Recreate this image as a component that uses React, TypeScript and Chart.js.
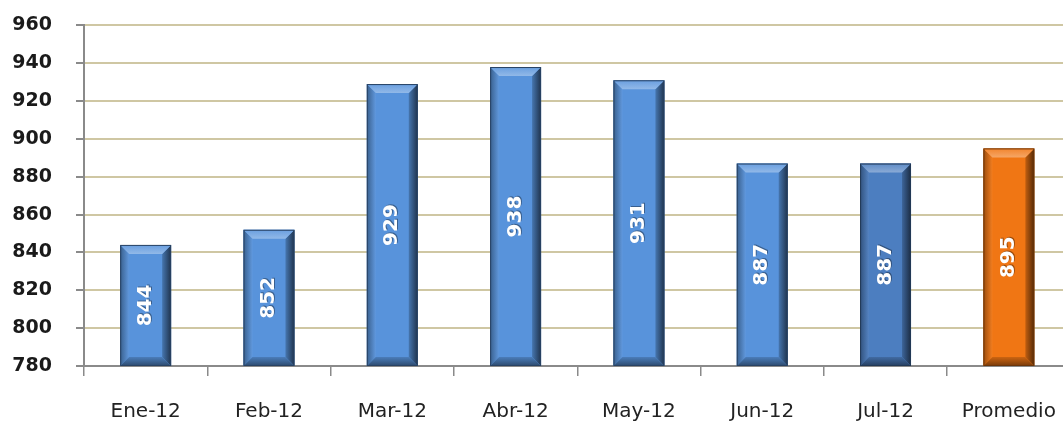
import React, { useEffect, useRef } from "react";
import { Chart, registerables } from "chart.js";

Chart.register(...registerables);

const categories = ["Ene-12", "Feb-12", "Mar-12", "Abr-12", "May-12", "Jun-12", "Jul-12", "Promedio"];
const values = [844, 852, 929, 938, 931, 887, 887, 895];
const barColors = ["#5893DB", "#5893DB", "#5893DB", "#5893DB", "#5893DB", "#5893DB", "#4C7EC0", "#F07614"];
const yTicks = [780, 800, 820, 840, 860, 880, 900, 920, 940, 960];

function shade(hex: string, f: number): string {
  const n = parseInt(hex.slice(1), 16);
  let r = (n >> 16) & 255, g = (n >> 8) & 255, b = n & 255;
  if (f >= 0) {
    r = r + (255 - r) * f; g = g + (255 - g) * f; b = b + (255 - b) * f;
  } else {
    r = r * (1 + f); g = g * (1 + f); b = b * (1 + f);
  }
  return `rgb(${Math.round(r)},${Math.round(g)},${Math.round(b)})`;
}

const bevelPlugin = {
  id: "bevel",
  afterDatasetsDraw(chart: any) {
    const ctx = chart.ctx;
    const meta = chart.getDatasetMeta(0);
    const ys = chart.scales.y;
    const xs = chart.scales.x;
    ctx.save();
    meta.data.forEach((bar: any, i: number) => {
      const x = xs.getPixelForValue(i);
      const width = bar.width || 51;
      const t = ys.getPixelForValue(values[i]);
      const b = ys.getPixelForValue(ys.min);
      const c = barColors[i];
      const l = x - width / 2, r = x + width / 2;
      const bv = 9;
      let g = ctx.createLinearGradient(r - bv, 0, r, 0);
      g.addColorStop(0, shade(c, -0.2));
      g.addColorStop(1, shade(c, -0.65));
      ctx.fillStyle = g;
      ctx.beginPath();
      ctx.moveTo(r, t); ctx.lineTo(r, b); ctx.lineTo(r - bv, b - bv); ctx.lineTo(r - bv, t + bv); ctx.closePath();
      ctx.fill();
      g = ctx.createLinearGradient(l, 0, l + bv, 0);
      g.addColorStop(0, shade(c, -0.35));
      g.addColorStop(1, shade(c, 0.05));
      ctx.fillStyle = g;
      ctx.beginPath();
      ctx.moveTo(l, t); ctx.lineTo(l, b); ctx.lineTo(l + bv, b - bv); ctx.lineTo(l + bv, t + bv); ctx.closePath();
      ctx.fill();
      g = ctx.createLinearGradient(0, t, 0, t + bv);
      g.addColorStop(0, shade(c, 0.1));
      g.addColorStop(1, shade(c, 0.35));
      ctx.fillStyle = g;
      ctx.beginPath();
      ctx.moveTo(l, t); ctx.lineTo(r, t); ctx.lineTo(r - bv, t + bv); ctx.lineTo(l + bv, t + bv); ctx.closePath();
      ctx.fill();
      g = ctx.createLinearGradient(0, b - bv, 0, b);
      g.addColorStop(0, shade(c, -0.15));
      g.addColorStop(1, shade(c, -0.5));
      ctx.fillStyle = g;
      ctx.beginPath();
      ctx.moveTo(l, b); ctx.lineTo(r, b); ctx.lineTo(r - bv, b - bv); ctx.lineTo(l + bv, b - bv); ctx.closePath();
      ctx.fill();
      ctx.strokeStyle = shade(c, -0.55);
      ctx.lineWidth = 1;
      ctx.strokeRect(l + 0.5, t + 0.5, width - 1, b - t - 1);
      ctx.save();
      ctx.translate(x, (t + b) / 2);
      ctx.rotate(-Math.PI / 2);
      ctx.font = "bold 20px 'DejaVu Sans', sans-serif";
      ctx.textAlign = "center";
      ctx.textBaseline = "middle";
      ctx.fillStyle = "rgba(0,0,0,0.35)";
      ctx.fillText(String(values[i]), 1, 1);
      ctx.fillStyle = "#ffffff";
      ctx.fillText(String(values[i]), 0, 0);
      ctx.restore();
    });
    ctx.restore();
  },
};

export default function App() {
  const ref = useRef<HTMLCanvasElement>(null);
  useEffect(() => {
    document.body.style.margin = "0";
    const chart = new Chart(ref.current!, {
      type: "bar",
      data: {
        labels: categories,
        datasets: [
          {
            data: values,
            backgroundColor: barColors,
            borderWidth: 0,
            barPercentage: 0.413,
            categoryPercentage: 1,
          },
        ],
      },
      options: {
        animation: false,
        responsive: false,
        layout: { padding: { top: 15, right: 2, left: 0, bottom: 0 } },
        plugins: { legend: { display: false }, tooltip: { enabled: false } },
        scales: {
          x: {
            offset: true,
            grid: { offset: true, drawOnChartArea: false, color: "#8a8a8a", tickLength: 10, lineWidth: 1.5 },
            border: { color: "#8a8a8a", width: 2 },
            ticks: { color: "#222", font: { family: "'DejaVu Sans'", size: 20 }, padding: 24, maxRotation: 0, autoSkip: false },
            afterFit: (s: any) => { s.height = 55; },
          },
          y: {
            min: 780,
            max: 960,
            afterBuildTicks: (s: any) => { s.ticks = yTicks.map((v) => ({ value: v })); },
            grid: { color: "#CFC7A3", tickColor: "#8a8a8a", tickLength: 8, lineWidth: 2 },
            border: { color: "#8a8a8a", width: 2 },
            ticks: { color: "#1a1a1a", font: { family: "'DejaVu Sans'", size: 19, weight: "bold" }, padding: 24 },
            afterFit: (s: any) => { s.width = 84; },
          },
        },
      },
      plugins: [bevelPlugin],
    });
    return () => chart.destroy();
  }, []);
  return (
    <div style={{ width: 1063, height: 421, overflow: "hidden", background: "#fff" }}>
      <canvas ref={ref} width={1080} height={431} style={{ display: "block", marginTop: -10 }} />
    </div>
  );
}
